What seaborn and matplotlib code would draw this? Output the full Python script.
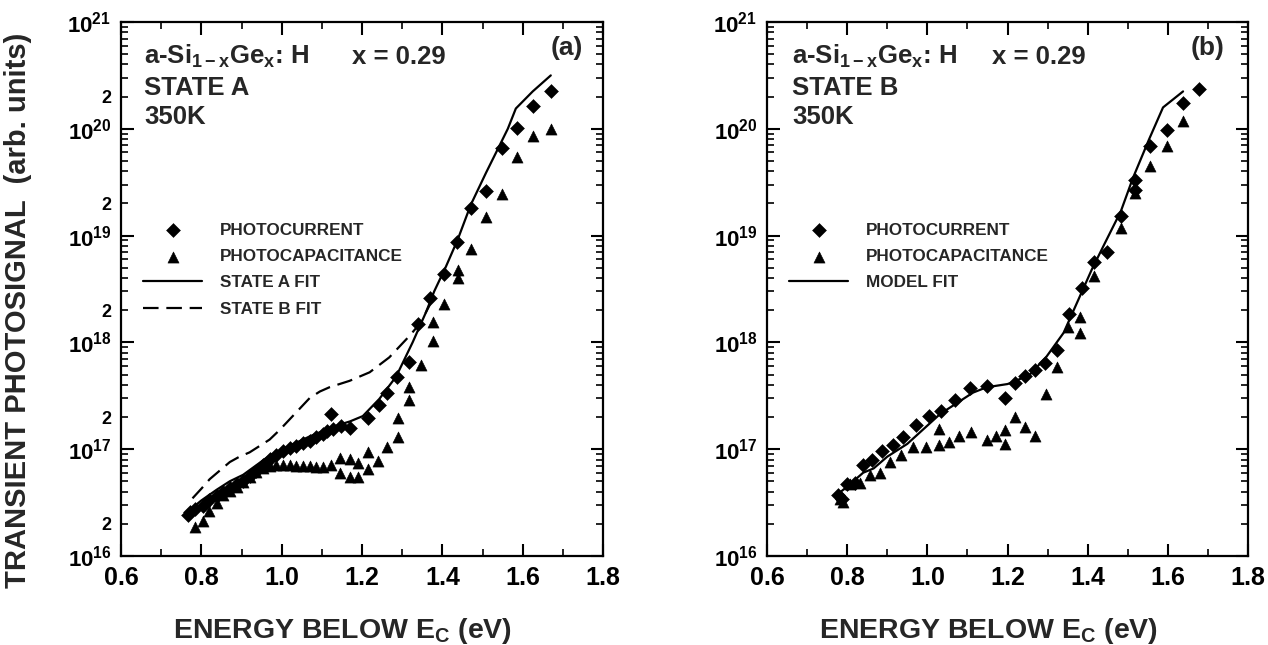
import numpy as np
import pandas as pd
import matplotlib
matplotlib.use("Agg")
import matplotlib.pyplot as plt
import seaborn as sns
from matplotlib.ticker import MultipleLocator, LogLocator, FuncFormatter, FormatStrFormatter

# ---------------- data (log10 of signal) ----------------
# Panel (a) : state A
a_pc_E = [0.766, 0.771, 0.785, 0.805, 0.820, 0.838, 0.855, 0.871, 0.888, 0.904, 0.920,
          0.937, 0.953, 0.970, 0.986, 1.003, 1.020, 1.036, 1.053, 1.070, 1.086, 1.103,
          1.112, 1.123, 1.128, 1.148, 1.169, 1.214, 1.243, 1.263, 1.288, 1.318, 1.340,
          1.370, 1.405, 1.437, 1.471, 1.508, 1.548, 1.585, 1.626, 1.670]
a_pc_log10 = [16.38, 16.41, 16.44, 16.47, 16.52, 16.56, 16.60, 16.64, 16.67, 16.70, 16.75,
              16.80, 16.85, 16.91, 16.95, 16.98, 17.01, 17.03, 17.06, 17.08, 17.11, 17.14,
              17.17, 17.33, 17.19, 17.22, 17.20, 17.29, 17.41, 17.53, 17.68, 17.82, 18.17,
              18.42, 18.64, 18.94, 19.26, 19.42, 19.82, 20.01, 20.21, 20.35]

a_cap_E = [0.784, 0.805, 0.820, 0.838, 0.855, 0.871, 0.888, 0.904, 0.920, 0.937, 0.953,
           0.970, 0.986, 1.003, 1.020, 1.036, 1.053, 1.070, 1.086, 1.103, 1.123, 1.146,
           1.146, 1.169, 1.169, 1.190, 1.190, 1.214, 1.214, 1.239, 1.262, 1.289, 1.289,
           1.318, 1.318, 1.347, 1.376, 1.376, 1.405, 1.438, 1.438, 1.471, 1.508, 1.548,
           1.585, 1.626, 1.670]
a_cap_log10 = [16.27, 16.33, 16.42, 16.50, 16.57, 16.61, 16.65, 16.69, 16.74, 16.79, 16.82,
               16.84, 16.85, 16.85, 16.85, 16.84, 16.84, 16.84, 16.83, 16.83, 16.85, 16.92,
               16.78, 16.91, 16.74, 16.87, 16.74, 16.97, 16.81, 16.89, 17.02, 17.29, 17.11,
               17.58, 17.46, 17.79, 18.19, 18.01, 18.36, 18.68, 18.60, 18.87, 19.17, 19.39,
               19.74, 19.93, 20.00]

a_fitA_E = [0.771, 0.800, 0.838, 0.871, 0.904, 0.937, 0.970, 1.003, 1.036, 1.070, 1.103,
            1.144, 1.170, 1.202, 1.243, 1.285, 1.326, 1.359, 1.380, 1.409, 1.438, 1.471,
            1.509, 1.542, 1.563, 1.583, 1.625, 1.670]
a_fitA_log10 = [16.43, 16.52, 16.62, 16.70, 16.76, 16.85, 16.94, 17.00, 17.06, 17.12, 17.17,
                17.23, 17.26, 17.31, 17.47, 17.68, 18.00, 18.28, 18.48, 18.71, 18.96, 19.29,
                19.59, 19.84, 20.00, 20.19, 20.35, 20.50]

a_fitB_E = [0.778, 0.800, 0.821, 0.846, 0.871, 0.895, 0.920, 0.945, 0.970, 0.995, 1.020,
            1.045, 1.070, 1.095, 1.119, 1.169, 1.219, 1.268, 1.318, 1.345, 1.370]
a_fitB_log10 = [16.54, 16.63, 16.72, 16.80, 16.88, 16.93, 16.97, 17.03, 17.09, 17.18, 17.28,
                17.38, 17.48, 17.54, 17.58, 17.64, 17.72, 17.86, 18.06, 18.18, 18.36]

# Panel (b) : state B
b_pc_E = [0.777, 0.786, 0.799, 0.820, 0.840, 0.861, 0.888, 0.915, 0.939, 0.971, 1.004,
          1.033, 1.070, 1.106, 1.149, 1.194, 1.219, 1.244, 1.268, 1.294, 1.323, 1.353,
          1.386, 1.416, 1.447, 1.482, 1.518, 1.518, 1.555, 1.597, 1.637, 1.678]
b_pc_log10 = [16.57, 16.53, 16.67, 16.68, 16.85, 16.90, 16.98, 17.04, 17.11, 17.23, 17.31,
              17.36, 17.46, 17.57, 17.59, 17.48, 17.62, 17.69, 17.74, 17.81, 17.93, 18.27,
              18.51, 18.75, 18.85, 19.18, 19.43, 19.52, 19.84, 19.99, 20.24, 20.37]

b_cap_E = [0.782, 0.790, 0.807, 0.832, 0.857, 0.881, 0.908, 0.935, 0.963, 0.996, 1.028,
           1.028, 1.053, 1.079, 1.110, 1.149, 1.172, 1.194, 1.194, 1.219, 1.243, 1.268,
           1.296, 1.323, 1.351, 1.380, 1.380, 1.416, 1.482, 1.518, 1.555, 1.597, 1.637]
b_cap_log10 = [16.53, 16.51, 16.67, 16.68, 16.76, 16.78, 16.88, 16.95, 17.02, 17.02, 17.04,
               17.19, 17.07, 17.12, 17.16, 17.09, 17.12, 17.18, 17.05, 17.30, 17.21, 17.12,
               17.52, 17.77, 18.14, 18.24, 18.09, 18.62, 19.07, 19.40, 19.65, 19.84, 20.07]

b_fit_E = [0.777, 0.800, 0.840, 0.866, 0.900, 0.950, 1.032, 1.114, 1.148, 1.200, 1.215,
           1.256, 1.296, 1.340, 1.378, 1.410, 1.443, 1.483, 1.513, 1.553, 1.588, 1.638]
b_fit_log10 = [16.58, 16.65, 16.78, 16.82, 16.93, 17.05, 17.33, 17.53, 17.58, 17.61, 17.63,
               17.70, 17.86, 18.09, 18.41, 18.68, 18.93, 19.23, 19.54, 19.90, 20.20, 20.35]

x_ticks_fmt = "%.1f"

# ---------------- style ----------------
sns.set_theme(style="ticks")
plt.rcParams["font.family"] = ["Liberation Sans", "DejaVu Sans"]
plt.rcParams["font.weight"] = "bold"
plt.rcParams["mathtext.fontset"] = "custom"
plt.rcParams["mathtext.rm"] = "Liberation Sans"
plt.rcParams["mathtext.bf"] = "Liberation Sans:bold"
plt.rcParams["mathtext.it"] = "Liberation Sans:italic"
plt.rcParams["mathtext.default"] = "regular"
plt.rcParams["axes.linewidth"] = 1.6

W, H = 1268, 645
fig = plt.figure(figsize=(W / 100, H / 100), dpi=100)
ax_a = fig.add_axes([121 / W, 1 - 556 / H, 482 / W, 534 / H])
ax_b = fig.add_axes([767 / W, 1 - 556 / H, 481 / W, 534 / H])


def df(E, lg):
    return pd.DataFrame({"E": E, "S": np.power(10.0, np.asarray(lg))})


def style_axes(ax, two_labels):
    ax.set_yscale("log")
    ax.set_xlim(0.6, 1.8)
    ax.set_ylim(1e16, 1e21)
    ax.xaxis.set_major_locator(MultipleLocator(0.2))
    ax.xaxis.set_minor_locator(MultipleLocator(0.1))
    ax.xaxis.set_major_formatter(FormatStrFormatter(x_ticks_fmt))
    ax.yaxis.set_major_locator(LogLocator(base=10, numticks=12))
    ax.yaxis.set_major_formatter(
        FuncFormatter(lambda v, p: r"$\mathbf{10^{%d}}$" % int(round(np.log10(v)))))
    ax.yaxis.set_minor_locator(LogLocator(base=10, subs=np.arange(2, 10), numticks=40))

    def minor_fmt(v, p):
        if not two_labels:
            return ""
        m = v / 10 ** np.floor(np.log10(v) + 1e-9)
        return "2" if abs(m - 2) < 0.05 else ""

    ax.yaxis.set_minor_formatter(FuncFormatter(minor_fmt))
    ax.tick_params(which="both", direction="in", top=True, right=True, colors="black")
    ax.tick_params(which="major", length=9, width=1.5)
    ax.tick_params(which="minor", length=5, width=1.2)
    ax.tick_params(axis="x", which="major", labelsize=18, pad=7)
    ax.tick_params(axis="y", which="major", labelsize=16, pad=7)
    ax.tick_params(axis="y", which="minor", labelsize=13, pad=7)
    for s in ax.spines.values():
        s.set_color("black")
        s.set_linewidth(1.6)
    ax.set_xlabel(r"ENERGY BELOW E$_C$ (eV)", fontsize=20.5, fontweight="bold")
    ax.xaxis.set_label_coords(0.46, -0.112)
    ax.xaxis.label.set_va("top")
    ax.set_ylabel("")


# ---------------- panel (a) ----------------
ax = ax_a
sns.scatterplot(data=df(a_pc_E, a_pc_log10), x="E", y="S", marker="D", s=50, color="black",
                edgecolor="black", linewidth=0.4, ax=ax, label="PHOTOCURRENT", zorder=3)
sns.scatterplot(data=df(a_cap_E, a_cap_log10), x="E", y="S", marker="^", s=64, color="black",
                edgecolor="black", linewidth=0.4, ax=ax, label="PHOTOCAPACITANCE", zorder=3)
sns.lineplot(data=df(a_fitA_E, a_fitA_log10), x="E", y="S", color="black", linewidth=1.6,
             sort=False, estimator=None, ax=ax, label="STATE A FIT")
sns.lineplot(data=df(a_fitB_E, a_fitB_log10), x="E", y="S", color="black", linewidth=1.6,
             sort=False, estimator=None, ax=ax, label="STATE B FIT")
ax.lines[-1].set_dashes((7, 3.5))
style_axes(ax, True)
ax.set_ylabel("TRANSIENT PHOTOSIGNAL  (arb. units)", fontsize=21, fontweight="bold")
ax.yaxis.set_label_coords(-0.185, 0.46)

# ---------------- panel (b) ----------------
ax = ax_b
sns.scatterplot(data=df(b_pc_E, b_pc_log10), x="E", y="S", marker="D", s=50, color="black",
                edgecolor="black", linewidth=0.4, ax=ax, label="PHOTOCURRENT", zorder=3)
sns.scatterplot(data=df(b_cap_E, b_cap_log10), x="E", y="S", marker="^", s=64, color="black",
                edgecolor="black", linewidth=0.4, ax=ax, label="PHOTOCAPACITANCE", zorder=3)
sns.lineplot(data=df(b_fit_E, b_fit_log10), x="E", y="S", color="black", linewidth=1.6,
             sort=False, estimator=None, ax=ax, label="MODEL FIT")
style_axes(ax, False)

# ---------------- annotations & legends ----------------
for ax, state, tag, xx, xt in [(ax_a, "STATE A", "(a)", 0.48, 0.925),
                                (ax_b, "STATE B", "(b)", 0.468, 0.915)]:
    x0 = 0.048 if ax is ax_a else 0.052
    ax.text(x0, 0.935, r"a-Si$_{1-x}$Ge$_x$: H", transform=ax.transAxes, fontsize=18.5,
            fontweight="bold", va="center", ha="left")
    ax.text(xx, 0.935, "x = 0.29", transform=ax.transAxes, fontsize=18.5,
            fontweight="bold", va="center", ha="left")
    ax.text(x0, 0.877, state, transform=ax.transAxes, fontsize=18.5,
            fontweight="bold", va="center", ha="left")
    ax.text(x0, 0.822, "350K", transform=ax.transAxes, fontsize=18.5,
            fontweight="bold", va="center", ha="left")
    ax.text(xt, 0.952, tag, transform=ax.transAxes, fontsize=19,
            fontweight="bold", va="center", ha="center")
    h, l = ax.get_legend_handles_labels()
    ax.legend(h, l, loc="upper left", bbox_to_anchor=(0.045, 0.624), frameon=False,
              prop={"size": 12.3, "weight": "bold"}, handlelength=3.5, handletextpad=1.0,
              labelspacing=0.66, borderaxespad=0, borderpad=0, scatterpoints=1)

fig.savefig("out.png", dpi=100, facecolor="white")
